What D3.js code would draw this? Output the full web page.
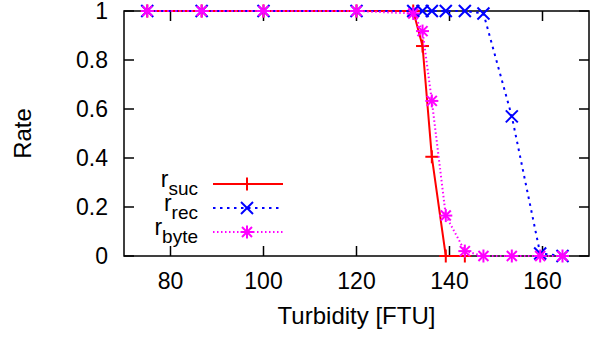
<!DOCTYPE html>
<html><head><meta charset="utf-8">
<script src="https://cdn.jsdelivr.net/npm/d3@7"></script>
<style>body{margin:0;background:#fff}svg{display:block}</style>
</head><body>
<svg id="c" width="600" height="338"></svg>
<script>
const turbidity = [75, 86.7, 100, 120, 132.2, 134.2, 136.2, 139.2, 143.3, 147.3, 153.4, 159.5, 164.3];
const rSuc  = [1, 1, 1, 1, 1, 0.857, 0.405, 0, 0];
const rRec  = [1, 1, 1, 1, 1, 1, 1, 1, 1, 0.99, 0.57, 0.01, 0];
const rByte = [1, 1, 1, 1, 0.99, 0.918, 0.633, 0.165, 0.02, 0, 0, 0, 0];
const xTicks = [80, 100, 120, 140, 160];
const yTicks = [0, 0.2, 0.4, 0.6, 0.8, 1];
const seriesNames = ["suc", "rec", "byte"];

const svg = d3.select("#c");
const L = 124, R = 589, T = 11, B = 256;
const x = d3.scaleLinear().domain([70, 170]).range([L, R]);
const y = d3.scaleLinear().domain([0, 1]).range([B, T]);
const font = "'Liberation Sans', Arial, sans-serif";
const tk = 10;

const g = svg.append("g");
xTicks.forEach(v => {
  g.append("line").attr("x1", x(v)).attr("x2", x(v)).attr("y1", B).attr("y2", B - tk).attr("stroke", "#000").attr("stroke-width", 1.5);
  g.append("line").attr("x1", x(v)).attr("x2", x(v)).attr("y1", T).attr("y2", T + tk).attr("stroke", "#000").attr("stroke-width", 1.5);
  g.append("text").attr("x", x(v)).attr("y", 289).attr("text-anchor", "middle")
    .attr("font-family", font).attr("font-size", 23).text(v);
});
yTicks.forEach(v => {
  g.append("line").attr("x1", L).attr("x2", L + tk).attr("y1", y(v)).attr("y2", y(v)).attr("stroke", "#000").attr("stroke-width", 1.5);
  g.append("line").attr("x1", R).attr("x2", R - tk).attr("y1", y(v)).attr("y2", y(v)).attr("stroke", "#000").attr("stroke-width", 1.5);
  g.append("text").attr("x", 108).attr("y", y(v) + 8).attr("text-anchor", "end")
    .attr("font-family", font).attr("font-size", 23).text(d3.format("~g")(v));
});
g.append("rect").attr("x", L).attr("y", T).attr("width", R - L).attr("height", B - T)
  .attr("fill", "none").attr("stroke", "#000").attr("stroke-width", 1.5);

g.append("text").attr("x", (L + R) / 2).attr("y", 324).attr("text-anchor", "middle")
  .attr("font-family", font).attr("font-size", 24).text("Turbidity [FTU]");
g.append("text").attr("transform", `translate(31,${(T + B) / 2}) rotate(-90)`).attr("text-anchor", "middle")
  .attr("font-family", font).attr("font-size", 24).text("Rate");

const styles = {
  suc: {color: "#ff0000", dash: null, marker: "plus"},
  rec: {color: "#0000ff", dash: "2.5,4.5", marker: "cross"},
  byte: {color: "#ff00ff", dash: "1.5,2.5", marker: "star"}
};
const data = {suc: rSuc, rec: rRec, byte: rByte};

function marker(sel, cx, cy, type, color) {
  const s = 6.5;
  const m = sel.append("g").attr("transform", `translate(${cx},${cy})`).attr("stroke", color).attr("stroke-width", 2);
  if (type === "plus" || type === "star") {
    m.append("line").attr("x1", -s).attr("x2", s).attr("y1", 0).attr("y2", 0);
    m.append("line").attr("x1", 0).attr("x2", 0).attr("y1", -s).attr("y2", s);
  }
  if (type === "cross" || type === "star") {
    const c = type === "star" ? 5 : 6;
    m.append("line").attr("x1", -c).attr("x2", c).attr("y1", -c).attr("y2", c);
    m.append("line").attr("x1", -c).attr("x2", c).attr("y1", c).attr("y2", -c);
  }
}

const line = d3.line().x(d => x(d[0])).y(d => y(d[1]));
seriesNames.forEach(name => {
  const st = styles[name];
  const pts = data[name].map((v, i) => [turbidity[i], v]);
  g.append("path").attr("d", line(pts)).attr("fill", "none").attr("stroke", st.color)
    .attr("stroke-width", 2).attr("stroke-dasharray", st.dash);
  pts.forEach(p => marker(g, x(p[0]), y(p[1]), st.marker, st.color));
});

const legY = [184, 208, 232];
seriesNames.forEach((name, i) => {
  const st = styles[name];
  const t = g.append("text").attr("x", 198).attr("y", legY[i] + 3).attr("text-anchor", "end")
    .attr("font-family", font).attr("font-size", 23);
  t.append("tspan").text("r");
  t.append("tspan").attr("dy", 8).attr("font-size", 19).text(name);
  g.append("line").attr("x1", 213).attr("x2", 283).attr("y1", legY[i]).attr("y2", legY[i])
    .attr("stroke", st.color).attr("stroke-width", 2).attr("stroke-dasharray", st.dash);
  marker(g, 247, legY[i], st.marker, st.color);
});
</script>
</body></html>
